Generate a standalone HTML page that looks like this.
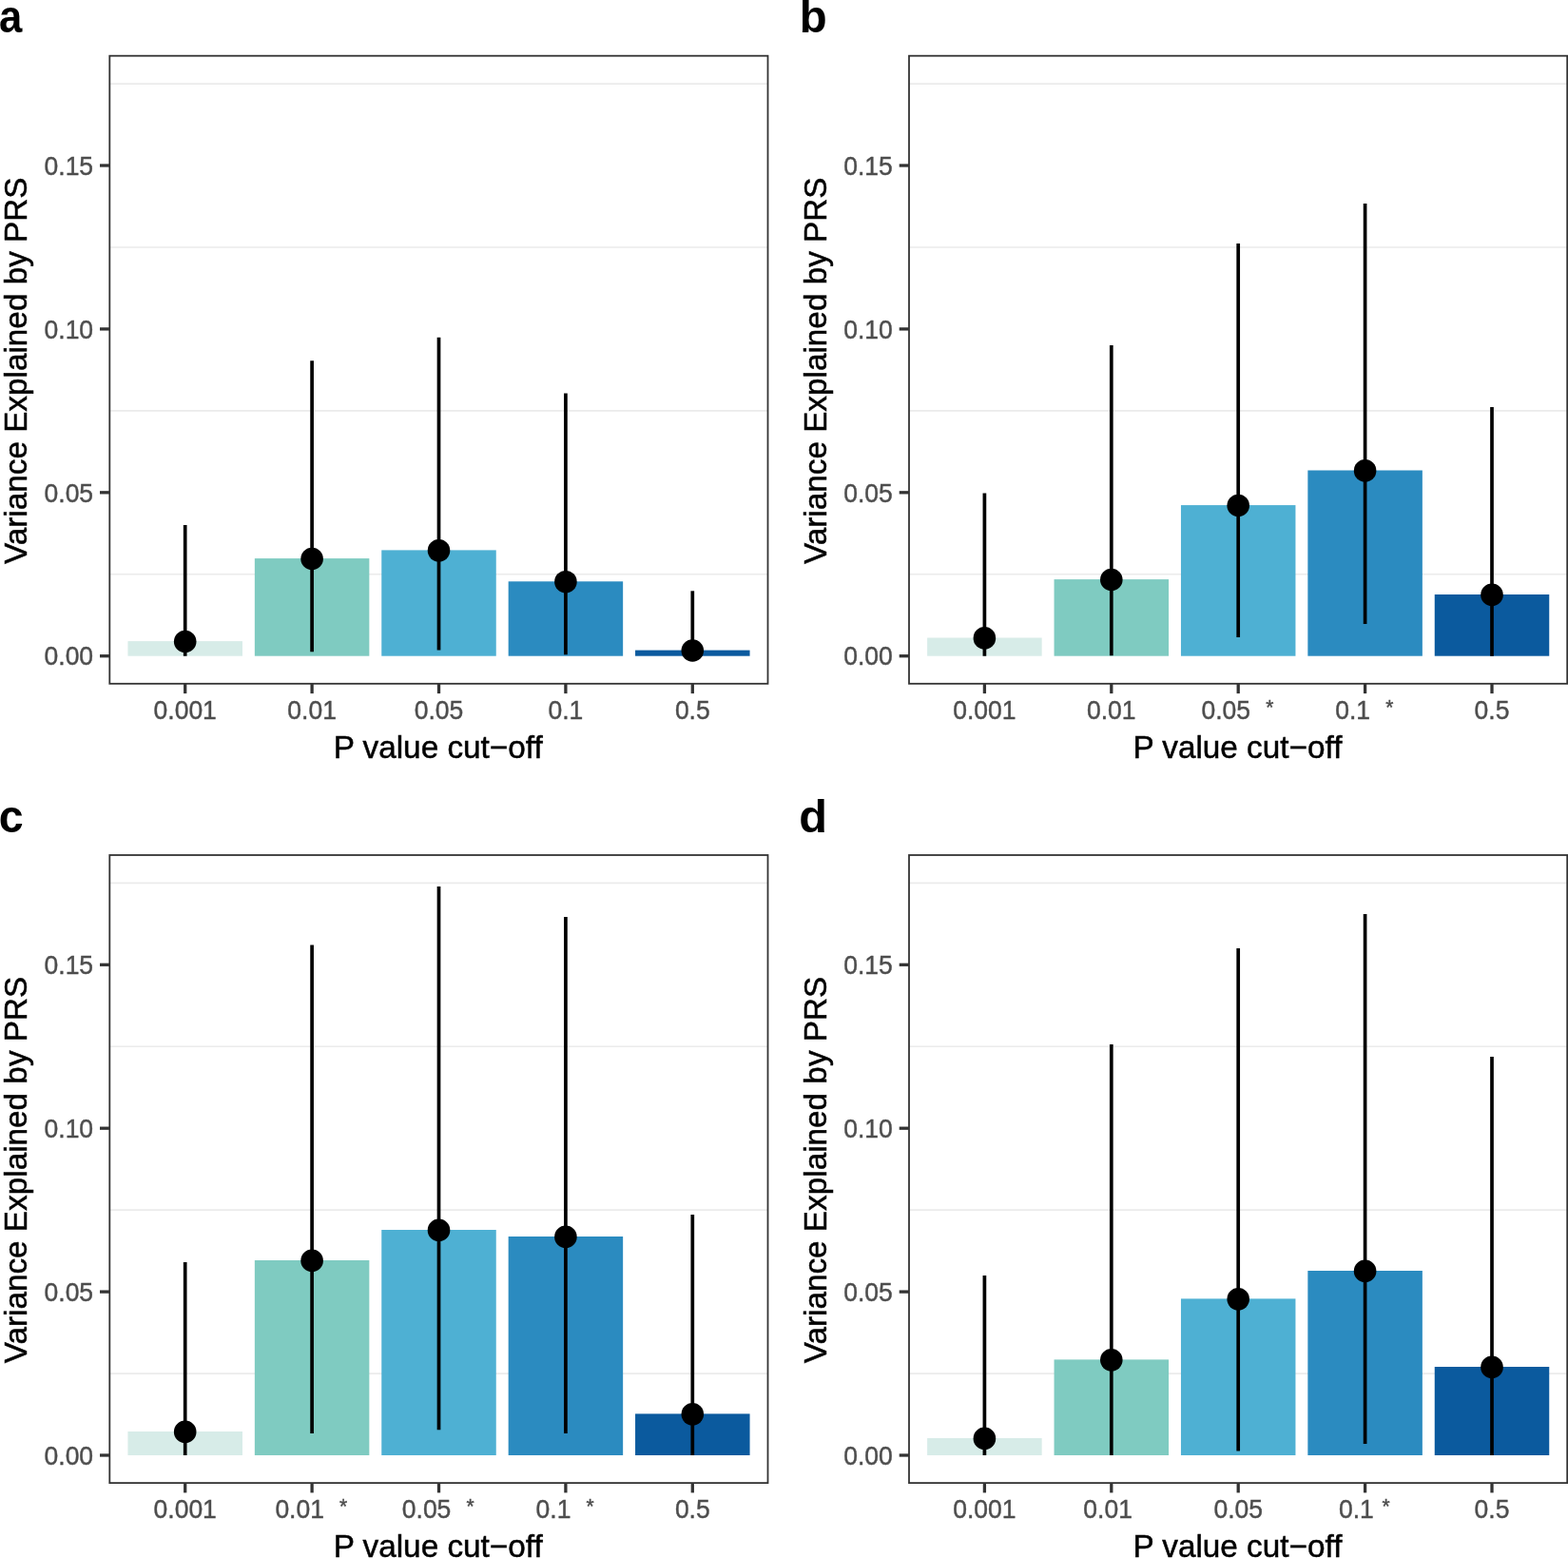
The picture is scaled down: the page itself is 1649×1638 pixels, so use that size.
<!DOCTYPE html>
<html lang="en"><head><meta charset="utf-8"><title>PRS variance explained</title>
<style>html,body{margin:0;padding:0;background:#fff}svg{display:block}text{font-family:"Liberation Sans",Arial,Helvetica,sans-serif}.tk{font-size:26.5px;fill:#4d4d4d;stroke:#4d4d4d;stroke-width:.4px}.ti{font-size:33.3px;fill:#000;stroke:#000;stroke-width:.5px}.pl{font-size:48px;font-weight:bold;fill:#000}</style></head><body>
<svg width="1649" height="1638" viewBox="0 0 1649 1638">
<rect width="1649" height="1638" fill="#fff"/>
<g transform="translate(0,0)">
<text class="pl" transform="translate(-1,34.2) scale(0.91,1)">a</text>
<line x1="115.3" x2="807.5" y1="603.75" y2="603.75" stroke="#ebebeb" stroke-width="1.65"/>
<line x1="115.3" x2="807.5" y1="431.85" y2="431.85" stroke="#ebebeb" stroke-width="1.65"/>
<line x1="115.3" x2="807.5" y1="259.95" y2="259.95" stroke="#ebebeb" stroke-width="1.65"/>
<line x1="115.3" x2="807.5" y1="88.05" y2="88.05" stroke="#ebebeb" stroke-width="1.65"/>
<rect x="134.45" y="674.1" width="120.5" height="15.6" fill="#D7ECE8"/>
<rect x="267.85" y="587.1" width="120.5" height="102.6" fill="#7FCBC1"/>
<rect x="401.25" y="578.4" width="120.5" height="111.3" fill="#4EB0D3"/>
<rect x="534.65" y="611.3" width="120.5" height="78.4" fill="#2B8BC0"/>
<rect x="668.05" y="683.6" width="120.5" height="6.1" fill="#0B5A9E"/>
<line x1="194.7" x2="194.7" y1="552" y2="689.7" stroke="#000" stroke-width="3.7"/>
<circle cx="194.7" cy="674.5" r="11.8" fill="#000"/>
<line x1="328.1" x2="328.1" y1="379.3" y2="685.3" stroke="#000" stroke-width="3.7"/>
<circle cx="328.1" cy="587.5" r="11.8" fill="#000"/>
<line x1="461.5" x2="461.5" y1="354.7" y2="683.6" stroke="#000" stroke-width="3.7"/>
<circle cx="461.5" cy="578.8" r="11.8" fill="#000"/>
<line x1="594.9" x2="594.9" y1="413.5" y2="688.2" stroke="#000" stroke-width="3.7"/>
<circle cx="594.9" cy="611.7" r="11.8" fill="#000"/>
<line x1="728.3" x2="728.3" y1="621.3" y2="689.7" stroke="#000" stroke-width="3.7"/>
<circle cx="728.3" cy="684" r="11.8" fill="#000"/>
<rect x="115.3" y="58.7" width="692.2" height="660.1" fill="none" stroke="#333" stroke-width="1.8"/>
<line x1="105" x2="115.3" y1="689.7" y2="689.7" stroke="#333" stroke-width="3.3"/>
<text class="tk" transform="translate(98.1,699.4) scale(1,1.03)" text-anchor="end">0.00</text>
<line x1="105" x2="115.3" y1="517.8" y2="517.8" stroke="#333" stroke-width="3.3"/>
<text class="tk" transform="translate(98.1,527.5) scale(1,1.03)" text-anchor="end">0.05</text>
<line x1="105" x2="115.3" y1="345.9" y2="345.9" stroke="#333" stroke-width="3.3"/>
<text class="tk" transform="translate(98.1,355.6) scale(1,1.03)" text-anchor="end">0.10</text>
<line x1="105" x2="115.3" y1="174" y2="174" stroke="#333" stroke-width="3.3"/>
<text class="tk" transform="translate(98.1,183.7) scale(1,1.03)" text-anchor="end">0.15</text>
<line x1="194.7" x2="194.7" y1="718.8" y2="729.1" stroke="#333" stroke-width="3.3"/>
<text class="tk" transform="translate(194.7,755.7) scale(1,1.03)" text-anchor="middle" xml:space="preserve">0.001</text>
<line x1="328.1" x2="328.1" y1="718.8" y2="729.1" stroke="#333" stroke-width="3.3"/>
<text class="tk" transform="translate(328.1,755.7) scale(1,1.03)" text-anchor="middle" xml:space="preserve">0.01</text>
<line x1="461.5" x2="461.5" y1="718.8" y2="729.1" stroke="#333" stroke-width="3.3"/>
<text class="tk" transform="translate(461.5,755.7) scale(1,1.03)" text-anchor="middle" xml:space="preserve">0.05</text>
<line x1="594.9" x2="594.9" y1="718.8" y2="729.1" stroke="#333" stroke-width="3.3"/>
<text class="tk" transform="translate(594.9,755.7) scale(1,1.03)" text-anchor="middle" xml:space="preserve">0.1</text>
<line x1="728.3" x2="728.3" y1="718.8" y2="729.1" stroke="#333" stroke-width="3.3"/>
<text class="tk" transform="translate(728.3,755.7) scale(1,1.03)" text-anchor="middle" xml:space="preserve">0.5</text>
<text class="ti" x="460.7" y="797" text-anchor="middle">P value cut−off</text>
<text class="ti" transform="translate(27.8,389.75) rotate(-90)" text-anchor="middle">Variance Explained by PRS</text>
</g>
<g transform="translate(840.7,0)">
<text class="pl" transform="translate(0.1,34.2) scale(0.986,1)">b</text>
<line x1="115.3" x2="807.5" y1="603.75" y2="603.75" stroke="#ebebeb" stroke-width="1.65"/>
<line x1="115.3" x2="807.5" y1="431.85" y2="431.85" stroke="#ebebeb" stroke-width="1.65"/>
<line x1="115.3" x2="807.5" y1="259.95" y2="259.95" stroke="#ebebeb" stroke-width="1.65"/>
<line x1="115.3" x2="807.5" y1="88.05" y2="88.05" stroke="#ebebeb" stroke-width="1.65"/>
<rect x="134.45" y="670.5" width="120.5" height="19.2" fill="#D7ECE8"/>
<rect x="267.85" y="609.1" width="120.5" height="80.6" fill="#7FCBC1"/>
<rect x="401.25" y="531.1" width="120.5" height="158.6" fill="#4EB0D3"/>
<rect x="534.65" y="494.5" width="120.5" height="195.2" fill="#2B8BC0"/>
<rect x="668.05" y="625" width="120.5" height="64.7" fill="#0B5A9E"/>
<line x1="194.7" x2="194.7" y1="518.5" y2="689.7" stroke="#000" stroke-width="3.7"/>
<circle cx="194.7" cy="670.9" r="11.8" fill="#000"/>
<line x1="328.1" x2="328.1" y1="363" y2="689.2" stroke="#000" stroke-width="3.7"/>
<circle cx="328.1" cy="609.5" r="11.8" fill="#000"/>
<line x1="461.5" x2="461.5" y1="256" y2="670" stroke="#000" stroke-width="3.7"/>
<circle cx="461.5" cy="531.5" r="11.8" fill="#000"/>
<line x1="594.9" x2="594.9" y1="214" y2="656" stroke="#000" stroke-width="3.7"/>
<circle cx="594.9" cy="494.9" r="11.8" fill="#000"/>
<line x1="728.3" x2="728.3" y1="428" y2="689.7" stroke="#000" stroke-width="3.7"/>
<circle cx="728.3" cy="625.4" r="11.8" fill="#000"/>
<rect x="115.3" y="58.7" width="692.2" height="660.1" fill="none" stroke="#333" stroke-width="1.8"/>
<line x1="105" x2="115.3" y1="689.7" y2="689.7" stroke="#333" stroke-width="3.3"/>
<text class="tk" transform="translate(98.1,699.4) scale(1,1.03)" text-anchor="end">0.00</text>
<line x1="105" x2="115.3" y1="517.8" y2="517.8" stroke="#333" stroke-width="3.3"/>
<text class="tk" transform="translate(98.1,527.5) scale(1,1.03)" text-anchor="end">0.05</text>
<line x1="105" x2="115.3" y1="345.9" y2="345.9" stroke="#333" stroke-width="3.3"/>
<text class="tk" transform="translate(98.1,355.6) scale(1,1.03)" text-anchor="end">0.10</text>
<line x1="105" x2="115.3" y1="174" y2="174" stroke="#333" stroke-width="3.3"/>
<text class="tk" transform="translate(98.1,183.7) scale(1,1.03)" text-anchor="end">0.15</text>
<line x1="194.7" x2="194.7" y1="718.8" y2="729.1" stroke="#333" stroke-width="3.3"/>
<text class="tk" transform="translate(194.7,755.7) scale(1,1.03)" text-anchor="middle" xml:space="preserve">0.001</text>
<line x1="328.1" x2="328.1" y1="718.8" y2="729.1" stroke="#333" stroke-width="3.3"/>
<text class="tk" transform="translate(328.1,755.7) scale(1,1.03)" text-anchor="middle" xml:space="preserve">0.01</text>
<line x1="461.5" x2="461.5" y1="718.8" y2="729.1" stroke="#333" stroke-width="3.3"/>
<text class="tk" transform="translate(460.7,755.7) scale(1,1.03)" text-anchor="middle" xml:space="preserve">0.05  <tspan font-size="21" dx="1.4" dy="-4.5">*</tspan></text>
<line x1="594.9" x2="594.9" y1="718.8" y2="729.1" stroke="#333" stroke-width="3.3"/>
<text class="tk" transform="translate(594.1,755.7) scale(1,1.03)" text-anchor="middle" xml:space="preserve">0.1  <tspan font-size="21" dx="1.4" dy="-4.5">*</tspan></text>
<line x1="728.3" x2="728.3" y1="718.8" y2="729.1" stroke="#333" stroke-width="3.3"/>
<text class="tk" transform="translate(728.3,755.7) scale(1,1.03)" text-anchor="middle" xml:space="preserve">0.5</text>
<text class="ti" x="460.7" y="797" text-anchor="middle">P value cut−off</text>
<text class="ti" transform="translate(27.8,389.75) rotate(-90)" text-anchor="middle">Variance Explained by PRS</text>
</g>
<g transform="translate(0,840.3)">
<text class="pl" transform="translate(-1.3,34.2) scale(0.97,1)">c</text>
<line x1="115.3" x2="807.5" y1="603.75" y2="603.75" stroke="#ebebeb" stroke-width="1.65"/>
<line x1="115.3" x2="807.5" y1="431.85" y2="431.85" stroke="#ebebeb" stroke-width="1.65"/>
<line x1="115.3" x2="807.5" y1="259.95" y2="259.95" stroke="#ebebeb" stroke-width="1.65"/>
<line x1="115.3" x2="807.5" y1="88.05" y2="88.05" stroke="#ebebeb" stroke-width="1.65"/>
<rect x="134.45" y="664.7" width="120.5" height="25" fill="#D7ECE8"/>
<rect x="267.85" y="484.7" width="120.5" height="205" fill="#7FCBC1"/>
<rect x="401.25" y="452.7" width="120.5" height="237" fill="#4EB0D3"/>
<rect x="534.65" y="459.7" width="120.5" height="230" fill="#2B8BC0"/>
<rect x="668.05" y="646.1" width="120.5" height="43.6" fill="#0B5A9E"/>
<line x1="194.7" x2="194.7" y1="486.7" y2="689.7" stroke="#000" stroke-width="3.7"/>
<circle cx="194.7" cy="665.1" r="11.8" fill="#000"/>
<line x1="328.1" x2="328.1" y1="153.1" y2="666.7" stroke="#000" stroke-width="3.7"/>
<circle cx="328.1" cy="485.1" r="11.8" fill="#000"/>
<line x1="461.5" x2="461.5" y1="91.7" y2="662.9" stroke="#000" stroke-width="3.7"/>
<circle cx="461.5" cy="453.1" r="11.8" fill="#000"/>
<line x1="594.9" x2="594.9" y1="123.7" y2="666.7" stroke="#000" stroke-width="3.7"/>
<circle cx="594.9" cy="460.1" r="11.8" fill="#000"/>
<line x1="728.3" x2="728.3" y1="436.7" y2="689.7" stroke="#000" stroke-width="3.7"/>
<circle cx="728.3" cy="646.5" r="11.8" fill="#000"/>
<rect x="115.3" y="58.7" width="692.2" height="660.1" fill="none" stroke="#333" stroke-width="1.8"/>
<line x1="105" x2="115.3" y1="689.7" y2="689.7" stroke="#333" stroke-width="3.3"/>
<text class="tk" transform="translate(98.1,699.4) scale(1,1.03)" text-anchor="end">0.00</text>
<line x1="105" x2="115.3" y1="517.8" y2="517.8" stroke="#333" stroke-width="3.3"/>
<text class="tk" transform="translate(98.1,527.5) scale(1,1.03)" text-anchor="end">0.05</text>
<line x1="105" x2="115.3" y1="345.9" y2="345.9" stroke="#333" stroke-width="3.3"/>
<text class="tk" transform="translate(98.1,355.6) scale(1,1.03)" text-anchor="end">0.10</text>
<line x1="105" x2="115.3" y1="174" y2="174" stroke="#333" stroke-width="3.3"/>
<text class="tk" transform="translate(98.1,183.7) scale(1,1.03)" text-anchor="end">0.15</text>
<line x1="194.7" x2="194.7" y1="718.8" y2="729.1" stroke="#333" stroke-width="3.3"/>
<text class="tk" transform="translate(194.7,755.7) scale(1,1.03)" text-anchor="middle" xml:space="preserve">0.001</text>
<line x1="328.1" x2="328.1" y1="718.8" y2="729.1" stroke="#333" stroke-width="3.3"/>
<text class="tk" transform="translate(327.3,755.7) scale(1,1.03)" text-anchor="middle" xml:space="preserve">0.01  <tspan font-size="21" dx="1.4" dy="-4.5">*</tspan></text>
<line x1="461.5" x2="461.5" y1="718.8" y2="729.1" stroke="#333" stroke-width="3.3"/>
<text class="tk" transform="translate(460.7,755.7) scale(1,1.03)" text-anchor="middle" xml:space="preserve">0.05  <tspan font-size="21" dx="1.4" dy="-4.5">*</tspan></text>
<line x1="594.9" x2="594.9" y1="718.8" y2="729.1" stroke="#333" stroke-width="3.3"/>
<text class="tk" transform="translate(594.1,755.7) scale(1,1.03)" text-anchor="middle" xml:space="preserve">0.1  <tspan font-size="21" dx="1.4" dy="-4.5">*</tspan></text>
<line x1="728.3" x2="728.3" y1="718.8" y2="729.1" stroke="#333" stroke-width="3.3"/>
<text class="tk" transform="translate(728.3,755.7) scale(1,1.03)" text-anchor="middle" xml:space="preserve">0.5</text>
<text class="ti" x="460.7" y="797" text-anchor="middle">P value cut−off</text>
<text class="ti" transform="translate(27.8,389.75) rotate(-90)" text-anchor="middle">Variance Explained by PRS</text>
</g>
<g transform="translate(840.7,840.3)">
<text class="pl" transform="translate(-0.4,34.2) scale(1.015,1)">d</text>
<line x1="115.3" x2="807.5" y1="603.75" y2="603.75" stroke="#ebebeb" stroke-width="1.65"/>
<line x1="115.3" x2="807.5" y1="431.85" y2="431.85" stroke="#ebebeb" stroke-width="1.65"/>
<line x1="115.3" x2="807.5" y1="259.95" y2="259.95" stroke="#ebebeb" stroke-width="1.65"/>
<line x1="115.3" x2="807.5" y1="88.05" y2="88.05" stroke="#ebebeb" stroke-width="1.65"/>
<rect x="134.45" y="671.7" width="120.5" height="18" fill="#D7ECE8"/>
<rect x="267.85" y="589.1" width="120.5" height="100.6" fill="#7FCBC1"/>
<rect x="401.25" y="525.1" width="120.5" height="164.6" fill="#4EB0D3"/>
<rect x="534.65" y="495.7" width="120.5" height="194" fill="#2B8BC0"/>
<rect x="668.05" y="596.7" width="120.5" height="93" fill="#0B5A9E"/>
<line x1="194.7" x2="194.7" y1="500.7" y2="689.7" stroke="#000" stroke-width="3.7"/>
<circle cx="194.7" cy="672.1" r="11.8" fill="#000"/>
<line x1="328.1" x2="328.1" y1="257.7" y2="689.7" stroke="#000" stroke-width="3.7"/>
<circle cx="328.1" cy="589.5" r="11.8" fill="#000"/>
<line x1="461.5" x2="461.5" y1="156.7" y2="685.1" stroke="#000" stroke-width="3.7"/>
<circle cx="461.5" cy="525.5" r="11.8" fill="#000"/>
<line x1="594.9" x2="594.9" y1="120.7" y2="677.7" stroke="#000" stroke-width="3.7"/>
<circle cx="594.9" cy="496.1" r="11.8" fill="#000"/>
<line x1="728.3" x2="728.3" y1="270.7" y2="689.7" stroke="#000" stroke-width="3.7"/>
<circle cx="728.3" cy="597.1" r="11.8" fill="#000"/>
<rect x="115.3" y="58.7" width="692.2" height="660.1" fill="none" stroke="#333" stroke-width="1.8"/>
<line x1="105" x2="115.3" y1="689.7" y2="689.7" stroke="#333" stroke-width="3.3"/>
<text class="tk" transform="translate(98.1,699.4) scale(1,1.03)" text-anchor="end">0.00</text>
<line x1="105" x2="115.3" y1="517.8" y2="517.8" stroke="#333" stroke-width="3.3"/>
<text class="tk" transform="translate(98.1,527.5) scale(1,1.03)" text-anchor="end">0.05</text>
<line x1="105" x2="115.3" y1="345.9" y2="345.9" stroke="#333" stroke-width="3.3"/>
<text class="tk" transform="translate(98.1,355.6) scale(1,1.03)" text-anchor="end">0.10</text>
<line x1="105" x2="115.3" y1="174" y2="174" stroke="#333" stroke-width="3.3"/>
<text class="tk" transform="translate(98.1,183.7) scale(1,1.03)" text-anchor="end">0.15</text>
<line x1="194.7" x2="194.7" y1="718.8" y2="729.1" stroke="#333" stroke-width="3.3"/>
<text class="tk" transform="translate(194.7,755.7) scale(1,1.03)" text-anchor="middle" xml:space="preserve">0.001</text>
<line x1="328.1" x2="328.1" y1="718.8" y2="729.1" stroke="#333" stroke-width="3.3"/>
<text class="tk" transform="translate(328.1,755.7) scale(1,1.03)" text-anchor="middle" xml:space="preserve">0.01 </text>
<line x1="461.5" x2="461.5" y1="718.8" y2="729.1" stroke="#333" stroke-width="3.3"/>
<text class="tk" transform="translate(461.5,755.7) scale(1,1.03)" text-anchor="middle" xml:space="preserve">0.05</text>
<line x1="594.9" x2="594.9" y1="718.8" y2="729.1" stroke="#333" stroke-width="3.3"/>
<text class="tk" transform="translate(594.1,755.7) scale(1,1.03)" text-anchor="middle" xml:space="preserve">0.1 <tspan font-size="21" dx="1.4" dy="-4.5">*</tspan></text>
<line x1="728.3" x2="728.3" y1="718.8" y2="729.1" stroke="#333" stroke-width="3.3"/>
<text class="tk" transform="translate(728.3,755.7) scale(1,1.03)" text-anchor="middle" xml:space="preserve">0.5</text>
<text class="ti" x="460.7" y="797" text-anchor="middle">P value cut−off</text>
<text class="ti" transform="translate(27.8,389.75) rotate(-90)" text-anchor="middle">Variance Explained by PRS</text>
</g>
</svg></body></html>
